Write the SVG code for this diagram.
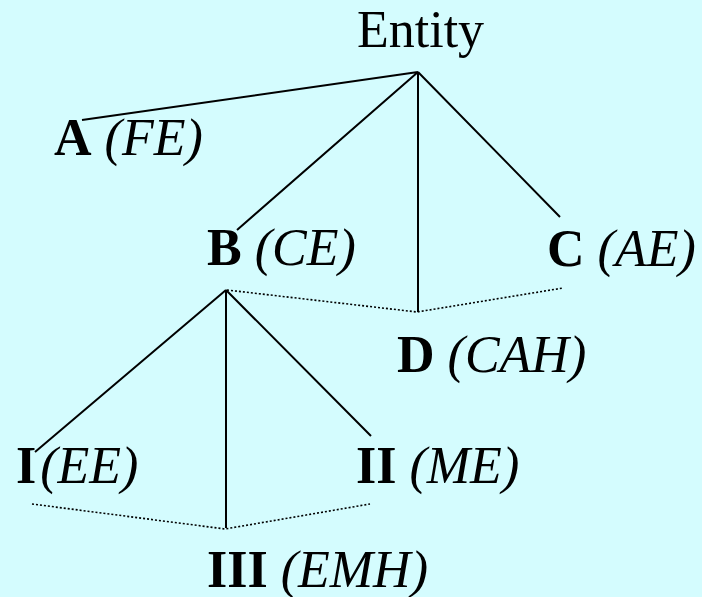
<svg xmlns="http://www.w3.org/2000/svg" width="702" height="597" viewBox="0 0 702 597">
<style>
text{font-family:"Liberation Serif","Times New Roman",serif;font-size:52px;fill:#000}
.b{font-weight:bold;font-style:normal}
.i{font-style:italic;font-weight:normal}
.solid{stroke:#000;stroke-width:2;fill:none}
.dot{stroke:#000;stroke-width:1.6;fill:none;stroke-dasharray:2 2}
</style>
<rect x="0" y="0" width="702" height="597" fill="#d4fcfe"/>
<g id="connectors">
<path class="solid" d="M418 72 L82 120 M418 72 L237 230 M418 72 L418 312 M418 72 L560 217"/>
<path class="solid" d="M226 290 L35 452 M226 290 L226 528 M226 290 L371 436"/>
<path class="dot" d="M227 290 L417 312 L563 288"/>
<path class="dot" d="M32 504 L225 529 L370 504"/>
</g>
<g id="entity"><text x="357" y="47" style="font-size:52px">Entity</text></g>
<g id="A"><text x="54" y="155"><tspan class="b">A</tspan><tspan class="i"> (FE)</tspan></text></g>
<g id="B"><text x="207" y="265"><tspan class="b">B</tspan><tspan class="i"> (CE)</tspan></text></g>
<g id="C"><text x="547" y="266"><tspan class="b">C</tspan><tspan class="i"> (AE)</tspan></text></g>
<g id="D"><text x="397" y="372"><tspan class="b">D</tspan><tspan class="i"> (CAH)</tspan></text></g>
<g id="I"><text x="16" y="483"><tspan class="b">I</tspan><tspan class="i" dx="4">(EE)</tspan></text></g>
<g id="II"><text x="356" y="483"><tspan class="b">II</tspan><tspan class="i"> (ME)</tspan></text></g>
<g id="III"><text x="207" y="587"><tspan class="b">III</tspan><tspan class="i"> (EMH)</tspan></text></g>
</svg>
